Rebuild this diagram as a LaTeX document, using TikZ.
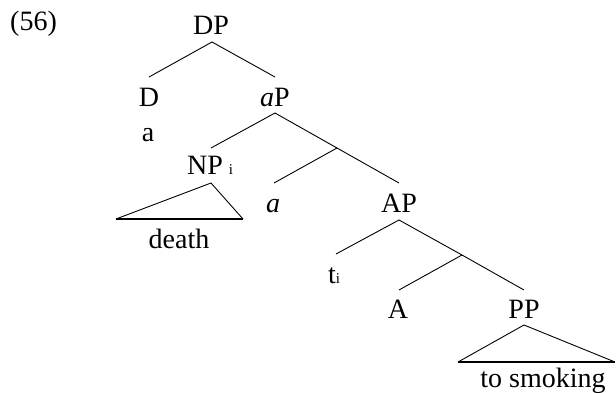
\documentclass[tikz,border=0pt]{standalone}
\usepackage{fontspec}
\setmainfont{Liberation Serif}
\begin{document}
\begin{tikzpicture}[x=1pt,y=-1pt,
  lab/.style={inner sep=0pt, anchor=base, font=\fontsize{28}{30}\selectfont},
  labw/.style={lab, anchor=base west},
  br/.style={line width=0.9pt},
  tbase/.style={line width=1.8pt}]
\useasboundingbox (0,0) rectangle (616,393);
\newcommand{\sub}[1]{{\fontsize{15}{15}\selectfont #1}}
% labels
\node[labw] (ex) at (10,31) {(56)};
\node[lab] (DP) at (211,35) {DP};
\node[lab] (D) at (149,107) {D};
\node[lab] (aP) at (275,107) {\textit{a}P};
\node[lab] (alex) at (148,142) {a};
\node[labw] (NP) at (187,175) {NP\hspace{6pt}\sub{i}};
\node[lab] (a) at (273,212) {\textit{a}};
\node[lab] (AP) at (399,212) {AP};
\node[lab] (death) at (179,248) {death};
\node[labw] (t) at (328,283) {t\sub{i}};
\node[lab] (A) at (398,318) {A};
\node[lab] (PP) at (524,318) {PP};
\node[lab] (smoke) at (543,387) {to smoking};
% junction points
\coordinate (DPs) at (212,42);
\coordinate (Dn) at (149,77);
\coordinate (aPn) at (275,77);
\coordinate (aPs) at (275,113);
\coordinate (NPn) at (211,148);
\coordinate (abar) at (337,148);
\coordinate (an) at (274,183);
\coordinate (APn) at (399,183);
\coordinate (NPt) at (211,183);
\coordinate (NPl) at (116,219);
\coordinate (NPr) at (243,219);
\coordinate (APs) at (399,220);
\coordinate (tn) at (336,254);
\coordinate (Abar) at (462,255);
\coordinate (An) at (399,290);
\coordinate (PPn) at (524,290);
\coordinate (PPt) at (524,325);
\coordinate (PPl) at (458,362);
\coordinate (PPr) at (615,362);
% branches
\draw[br] (Dn) -- (DPs) -- (aPn);
\draw[br] (NPn) -- (aPs) -- (abar) -- (APn);
\draw[br] (abar) -- (an);
\draw[br] (tn) -- (APs) -- (Abar) -- (PPn);
\draw[br] (Abar) -- (An);
% triangles
\draw[br] (NPl) -- (NPt) -- (NPr);
\draw[tbase] (NPl) -- (NPr);
\draw[br] (PPl) -- (PPt) -- (PPr);
\draw[tbase] (PPl) -- (PPr);
\end{tikzpicture}
\end{document}
